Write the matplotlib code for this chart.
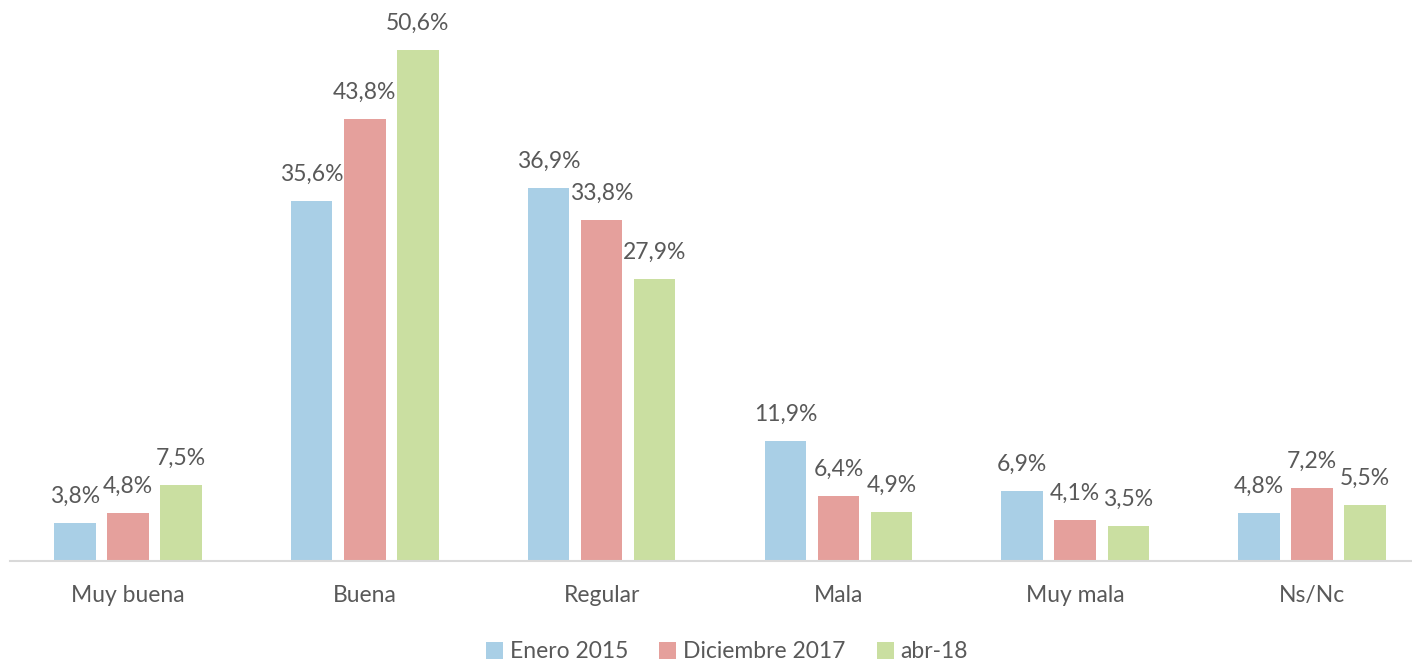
import matplotlib
matplotlib.use("Agg")
import matplotlib.pyplot as plt
import numpy as np

# ── data ──────────────────────────────────────────────────────────────────────
categories = ["Muy buena", "Buena", "Regular", "Mala", "Muy mala", "Ns/Nc"]
series_names = ["Enero 2015", "Diciembre 2017", "abr-18"]
enero_2015 = [3.8, 35.6, 36.9, 11.9, 6.9, 4.8]
dic_2017 = [4.8, 43.8, 33.8, 6.4, 4.1, 7.2]
abr_18 = [7.5, 50.6, 27.9, 4.9, 3.5, 5.5]

# ── style ─────────────────────────────────────────────────────────────────────
colors = ["#A9CFE6", "#E5A09C", "#CADFA1"]
text_c = "#595959"
FS = 16.5
plt.rcParams["font.family"] = ["Lato", "DejaVu Sans"]

W, H, DPI = 1412, 661, 100
fig = plt.figure(figsize=(W / DPI, H / DPI), dpi=DPI, facecolor="white")
ax = fig.add_axes([9.6 / W, 100 / H, 1420.8 / W, 555.5 / H])

x = np.arange(len(categories))
bw, off = 0.175, 0.224
for i, (vals, name) in enumerate(zip([enero_2015, dic_2017, abr_18], series_names)):
    pos = x + (i - 1) * off
    ax.bar(pos, vals, width=bw, color=colors[i], label=name, zorder=2)
    for p, v in zip(pos, vals):
        ax.text(p, v + 1.6, f"{v:.1f}%".replace(".", ","), ha="center", va="bottom",
                fontsize=FS, color=text_c)

ax.set_xlim(-0.5, len(categories) - 0.5)
ax.set_ylim(0, 55)
ax.set_xticks(x)
ax.set_xticklabels(categories, fontsize=FS, color=text_c)
ax.tick_params(axis="x", length=0, pad=17)
ax.set_yticks([])
for s in ["top", "right", "left"]:
    ax.spines[s].set_visible(False)
ax.spines["bottom"].set_color("#D9D9D9")
ax.spines["bottom"].set_linewidth(1.5)

fig.legend(loc="center", bbox_to_anchor=(727 / W, 1 - 652 / H), ncol=3, frameon=False,
           fontsize=FS, labelcolor=text_c, handlelength=0.75, handleheight=0.75,
           handletextpad=0.3, columnspacing=1.35)

fig.savefig("out.png", dpi=DPI, facecolor="white")
